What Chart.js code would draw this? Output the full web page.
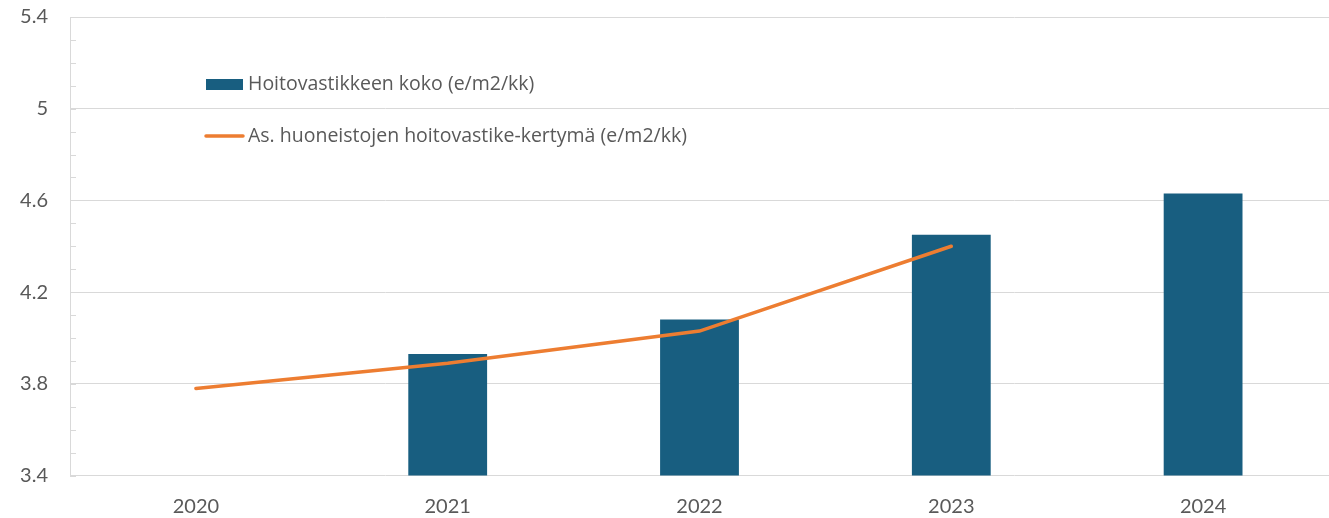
<!DOCTYPE html>
<html>
<head>
<meta charset="utf-8">
<script src="https://cdn.jsdelivr.net/npm/chart.js@4.4.0/dist/chart.umd.min.js"></script>
<style>
  body { margin: 0; background: #fff; }
  #wrap { width: 1329px; height: 518px; }
</style>
</head>
<body>
<div id="wrap"><canvas id="myChart" width="1329" height="518"></canvas></div>
<script>
var years = ["2020", "2021", "2022", "2023", "2024"];
var feeSize = [null, 3.93, 4.08, 4.45, 4.63];
var feeAccrual = [3.78, 3.89, 4.03, 4.40, null];
var feeSizeLabel = "Hoitovastikkeen koko (e/m2/kk)";
var feeAccrualLabel = "As. huoneistojen hoitovastike-kertymä (e/m2/kk)";
var yMin = 3.4, yMax = 5.4, yStep = 0.4, yMinorStep = 0.1;

var barColor = "#185E80";
var lineColor = "#ED7D31";
var textColor = "#595959";
var gridColor = "#D9D9D9";

// minor tick marks on the inside of the y axis
var minorTicks = {
  id: "minorTicks",
  afterDatasetsDraw: function (chart) {
    var y = chart.scales.y, ctx = chart.ctx, x0 = chart.chartArea.left;
    ctx.save();
    ctx.strokeStyle = gridColor;
    ctx.lineWidth = 1;
    for (var v = yMin; v < yMax - 0.001; v += yMinorStep) {
      var py = Math.round(y.getPixelForValue(v)) + 0.5;
      ctx.beginPath();
      ctx.moveTo(x0, py);
      ctx.lineTo(x0 + 6, py);
      ctx.stroke();
    }
    ctx.restore();
  }
};

// legend drawn inside the plot area, bar entry first
var innerLegend = {
  id: "innerLegend",
  afterDraw: function (chart) {
    var ctx = chart.ctx;
    var bar = chart.data.datasets[1], line = chart.data.datasets[0];
    ctx.save();
    ctx.font = "19.5px 'Open Sans'";
    ctx.textBaseline = "middle";
    ctx.fillStyle = bar.backgroundColor;
    ctx.fillRect(206, 79, 37, 11);
    ctx.fillStyle = textColor;
    ctx.fillText(bar.label, 248, 84);
    ctx.strokeStyle = line.borderColor;
    ctx.lineWidth = 3.5;
    ctx.lineCap = "round";
    ctx.beginPath();
    ctx.moveTo(206, 136);
    ctx.lineTo(243, 136);
    ctx.stroke();
    ctx.fillText(line.label, 248, 136);
    ctx.restore();
  }
};

var ctx = document.getElementById("myChart");
new Chart(ctx, {
  type: "bar",
  data: {
    labels: years,
    datasets: [
      {
        type: "line",
        label: feeAccrualLabel,
        data: feeAccrual,
        borderColor: lineColor,
        backgroundColor: lineColor,
        borderWidth: 3.5,
        borderCapStyle: "round",
        pointRadius: 0,
        tension: 0,
        spanGaps: false
      },
      {
        type: "bar",
        label: feeSizeLabel,
        data: feeSize,
        backgroundColor: barColor,
        categoryPercentage: 1,
        barPercentage: 0.313
      }
    ]
  },
  options: {
    responsive: false,
    animation: false,
    layout: { padding: { top: 17, right: 0, left: 0, bottom: 0 } },
    plugins: { legend: { display: false }, tooltip: { enabled: false } },
    scales: {
      x: {
        grid: { display: false, drawTicks: false },
        border: { display: false },
        ticks: { color: textColor, font: { family: "Lato", size: 20 }, padding: 19 },
        afterFit: function (s) {
          s.height = 42.5;
          s.paddingLeft = 0;
          s.paddingRight = 0;
        }
      },
      y: {
        min: yMin,
        max: yMax,
        grid: { color: gridColor, drawTicks: false },
        border: { color: gridColor },
        ticks: {
          stepSize: yStep,
          color: textColor,
          font: { family: "Lato", size: 20 },
          padding: 22,
          callback: function (v) { return String(+v.toFixed(1)); }
        },
        afterFit: function (s) {
          s.width = 70;
          s.paddingTop = 0;
          s.paddingBottom = 0;
        }
      }
    }
  },
  plugins: [minorTicks, innerLegend]
});
</script>
</body>
</html>
